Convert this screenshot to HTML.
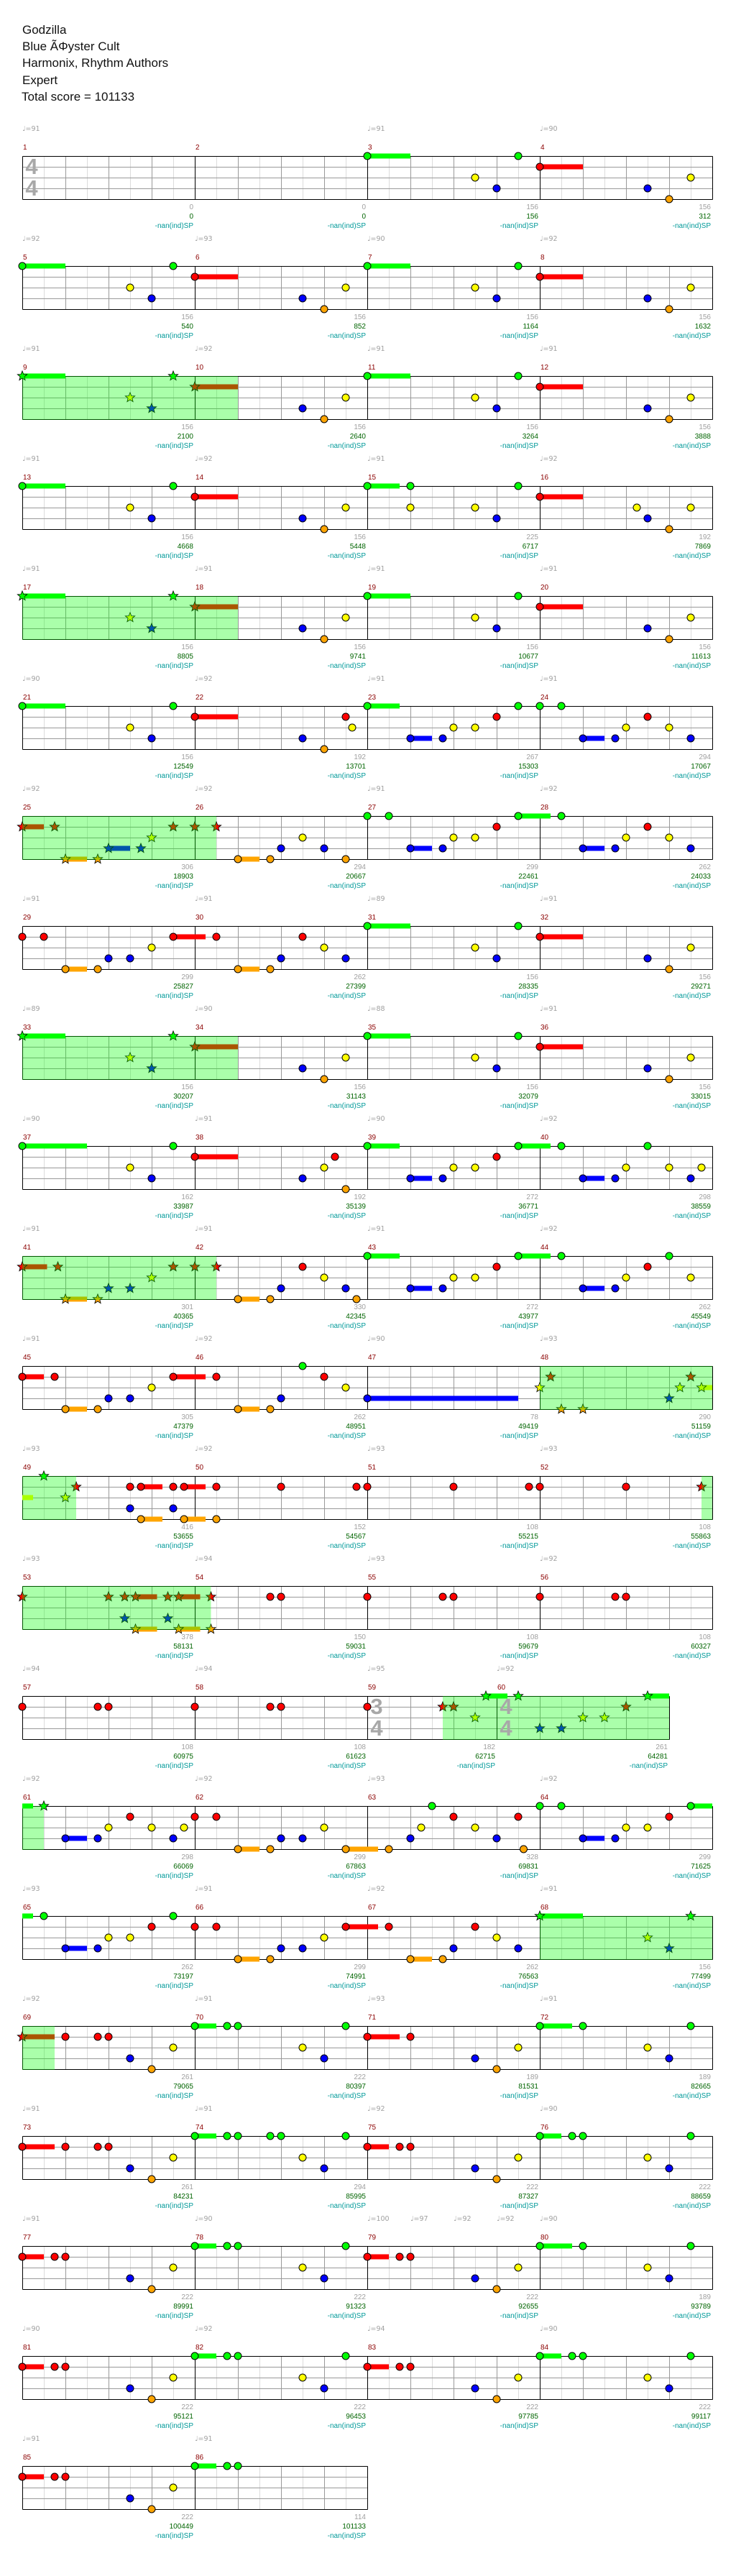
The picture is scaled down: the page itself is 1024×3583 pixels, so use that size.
<!DOCTYPE html>
<html><head><meta charset="utf-8">
<style>
html,body{margin:0;padding:0;background:#fff;}
body{width:1024px;height:3583px;position:relative;overflow:hidden;font-family:"Liberation Sans","DejaVu Sans",sans-serif;}
#g{position:absolute;left:0;top:0;}
.h{position:absolute;left:31px;font-size:17px;line-height:23px;color:#111;}
.r{position:absolute;left:0;width:1024px;height:1px;}
.m{position:absolute;top:0;width:240px;height:1px;font-size:10px;line-height:12px;}
.m i{position:absolute;left:0;top:-43px;font-style:normal;color:#a0a0a0;white-space:nowrap;font-family:"DejaVu Sans","Liberation Sans",sans-serif;font-size:9.5px;}
.m u{position:absolute;left:1px;top:-17px;text-decoration:none;color:#8b0000;}
.m s,.m b,.m q{position:absolute;right:2px;text-decoration:none;font-weight:normal;white-space:nowrap;}
.m s{top:66px;color:#a0a0a0;}
.m b{top:79px;color:#006400;}
.m q{top:92px;color:#009999;quotes:none;}
q::before,q::after{content:none;}
.ts{position:absolute;font-size:31px;font-weight:bold;color:#a8a8a8;line-height:30px;width:24px;text-align:center;}
</style></head><body>
<svg id="g" width="1024" height="3583" xmlns="http://www.w3.org/2000/svg"></svg>

<div class="h" style="top:30px">Godzilla</div>
<div class="h" style="top:53px">Blue ÃΦyster Cult</div>
<div class="h" style="top:76px">Harmonix, Rhythm Authors</div>
<div class="h" style="top:100px">Expert</div>
<div class="h" style="top:123px;left:30px">Total score = 101133</div>

<div class="ts" style="left:32px;top:217px">4</div>
<div class="ts" style="left:32px;top:247px">4</div>
<div class="ts" style="left:512px;top:2359px">3</div>
<div class="ts" style="left:512px;top:2389px">4</div>
<div class="ts" style="left:692px;top:2359px">4</div>
<div class="ts" style="left:692px;top:2389px">4</div>

<div class="r" style="top:217px">
<div class="m" style="left:31px"><i>♩=91</i><u>1</u><s>0</s><b>0</b><q>-nan(ind)SP</q></div>
<div class="m" style="left:271px"><u>2</u><s>0</s><b>0</b><q>-nan(ind)SP</q></div>
<div class="m" style="left:511px"><i>♩=91</i><u>3</u><s>156</s><b>156</b><q>-nan(ind)SP</q></div>
<div class="m" style="left:751px"><i>♩=90</i><u>4</u><s>156</s><b>312</b><q>-nan(ind)SP</q></div>
</div>
<div class="r" style="top:370px">
<div class="m" style="left:31px"><i>♩=92</i><u>5</u><s>156</s><b>540</b><q>-nan(ind)SP</q></div>
<div class="m" style="left:271px"><i>♩=93</i><u>6</u><s>156</s><b>852</b><q>-nan(ind)SP</q></div>
<div class="m" style="left:511px"><i>♩=90</i><u>7</u><s>156</s><b>1164</b><q>-nan(ind)SP</q></div>
<div class="m" style="left:751px"><i>♩=92</i><u>8</u><s>156</s><b>1632</b><q>-nan(ind)SP</q></div>
</div>
<div class="r" style="top:523px">
<div class="m" style="left:31px"><i>♩=91</i><u>9</u><s>156</s><b>2100</b><q>-nan(ind)SP</q></div>
<div class="m" style="left:271px"><i>♩=92</i><u>10</u><s>156</s><b>2640</b><q>-nan(ind)SP</q></div>
<div class="m" style="left:511px"><i>♩=91</i><u>11</u><s>156</s><b>3264</b><q>-nan(ind)SP</q></div>
<div class="m" style="left:751px"><i>♩=91</i><u>12</u><s>156</s><b>3888</b><q>-nan(ind)SP</q></div>
</div>
<div class="r" style="top:676px">
<div class="m" style="left:31px"><i>♩=91</i><u>13</u><s>156</s><b>4668</b><q>-nan(ind)SP</q></div>
<div class="m" style="left:271px"><i>♩=92</i><u>14</u><s>156</s><b>5448</b><q>-nan(ind)SP</q></div>
<div class="m" style="left:511px"><i>♩=91</i><u>15</u><s>225</s><b>6717</b><q>-nan(ind)SP</q></div>
<div class="m" style="left:751px"><i>♩=92</i><u>16</u><s>192</s><b>7869</b><q>-nan(ind)SP</q></div>
</div>
<div class="r" style="top:829px">
<div class="m" style="left:31px"><i>♩=91</i><u>17</u><s>156</s><b>8805</b><q>-nan(ind)SP</q></div>
<div class="m" style="left:271px"><i>♩=91</i><u>18</u><s>156</s><b>9741</b><q>-nan(ind)SP</q></div>
<div class="m" style="left:511px"><i>♩=91</i><u>19</u><s>156</s><b>10677</b><q>-nan(ind)SP</q></div>
<div class="m" style="left:751px"><i>♩=91</i><u>20</u><s>156</s><b>11613</b><q>-nan(ind)SP</q></div>
</div>
<div class="r" style="top:982px">
<div class="m" style="left:31px"><i>♩=90</i><u>21</u><s>156</s><b>12549</b><q>-nan(ind)SP</q></div>
<div class="m" style="left:271px"><i>♩=92</i><u>22</u><s>192</s><b>13701</b><q>-nan(ind)SP</q></div>
<div class="m" style="left:511px"><i>♩=91</i><u>23</u><s>267</s><b>15303</b><q>-nan(ind)SP</q></div>
<div class="m" style="left:751px"><i>♩=91</i><u>24</u><s>294</s><b>17067</b><q>-nan(ind)SP</q></div>
</div>
<div class="r" style="top:1135px">
<div class="m" style="left:31px"><i>♩=92</i><u>25</u><s>306</s><b>18903</b><q>-nan(ind)SP</q></div>
<div class="m" style="left:271px"><i>♩=92</i><u>26</u><s>294</s><b>20667</b><q>-nan(ind)SP</q></div>
<div class="m" style="left:511px"><i>♩=91</i><u>27</u><s>299</s><b>22461</b><q>-nan(ind)SP</q></div>
<div class="m" style="left:751px"><i>♩=92</i><u>28</u><s>262</s><b>24033</b><q>-nan(ind)SP</q></div>
</div>
<div class="r" style="top:1288px">
<div class="m" style="left:31px"><i>♩=91</i><u>29</u><s>299</s><b>25827</b><q>-nan(ind)SP</q></div>
<div class="m" style="left:271px"><i>♩=91</i><u>30</u><s>262</s><b>27399</b><q>-nan(ind)SP</q></div>
<div class="m" style="left:511px"><i>♩=89</i><u>31</u><s>156</s><b>28335</b><q>-nan(ind)SP</q></div>
<div class="m" style="left:751px"><i>♩=91</i><u>32</u><s>156</s><b>29271</b><q>-nan(ind)SP</q></div>
</div>
<div class="r" style="top:1441px">
<div class="m" style="left:31px"><i>♩=89</i><u>33</u><s>156</s><b>30207</b><q>-nan(ind)SP</q></div>
<div class="m" style="left:271px"><i>♩=90</i><u>34</u><s>156</s><b>31143</b><q>-nan(ind)SP</q></div>
<div class="m" style="left:511px"><i>♩=88</i><u>35</u><s>156</s><b>32079</b><q>-nan(ind)SP</q></div>
<div class="m" style="left:751px"><i>♩=91</i><u>36</u><s>156</s><b>33015</b><q>-nan(ind)SP</q></div>
</div>
<div class="r" style="top:1594px">
<div class="m" style="left:31px"><i>♩=90</i><u>37</u><s>162</s><b>33987</b><q>-nan(ind)SP</q></div>
<div class="m" style="left:271px"><i>♩=91</i><u>38</u><s>192</s><b>35139</b><q>-nan(ind)SP</q></div>
<div class="m" style="left:511px"><i>♩=90</i><u>39</u><s>272</s><b>36771</b><q>-nan(ind)SP</q></div>
<div class="m" style="left:751px"><i>♩=92</i><u>40</u><s>298</s><b>38559</b><q>-nan(ind)SP</q></div>
</div>
<div class="r" style="top:1747px">
<div class="m" style="left:31px"><i>♩=91</i><u>41</u><s>301</s><b>40365</b><q>-nan(ind)SP</q></div>
<div class="m" style="left:271px"><i>♩=91</i><u>42</u><s>330</s><b>42345</b><q>-nan(ind)SP</q></div>
<div class="m" style="left:511px"><i>♩=91</i><u>43</u><s>272</s><b>43977</b><q>-nan(ind)SP</q></div>
<div class="m" style="left:751px"><i>♩=92</i><u>44</u><s>262</s><b>45549</b><q>-nan(ind)SP</q></div>
</div>
<div class="r" style="top:1900px">
<div class="m" style="left:31px"><i>♩=91</i><u>45</u><s>305</s><b>47379</b><q>-nan(ind)SP</q></div>
<div class="m" style="left:271px"><i>♩=92</i><u>46</u><s>262</s><b>48951</b><q>-nan(ind)SP</q></div>
<div class="m" style="left:511px"><i>♩=90</i><u>47</u><s>78</s><b>49419</b><q>-nan(ind)SP</q></div>
<div class="m" style="left:751px"><i>♩=93</i><u>48</u><s>290</s><b>51159</b><q>-nan(ind)SP</q></div>
</div>
<div class="r" style="top:2053px">
<div class="m" style="left:31px"><i>♩=93</i><u>49</u><s>416</s><b>53655</b><q>-nan(ind)SP</q></div>
<div class="m" style="left:271px"><i>♩=92</i><u>50</u><s>152</s><b>54567</b><q>-nan(ind)SP</q></div>
<div class="m" style="left:511px"><i>♩=93</i><u>51</u><s>108</s><b>55215</b><q>-nan(ind)SP</q></div>
<div class="m" style="left:751px"><i>♩=93</i><u>52</u><s>108</s><b>55863</b><q>-nan(ind)SP</q></div>
</div>
<div class="r" style="top:2206px">
<div class="m" style="left:31px"><i>♩=93</i><u>53</u><s>378</s><b>58131</b><q>-nan(ind)SP</q></div>
<div class="m" style="left:271px"><i>♩=94</i><u>54</u><s>150</s><b>59031</b><q>-nan(ind)SP</q></div>
<div class="m" style="left:511px"><i>♩=93</i><u>55</u><s>108</s><b>59679</b><q>-nan(ind)SP</q></div>
<div class="m" style="left:751px"><i>♩=92</i><u>56</u><s>108</s><b>60327</b><q>-nan(ind)SP</q></div>
</div>
<div class="r" style="top:2359px">
<div class="m" style="left:31px"><i>♩=94</i><u>57</u><s>108</s><b>60975</b><q>-nan(ind)SP</q></div>
<div class="m" style="left:271px"><i>♩=94</i><u>58</u><s>108</s><b>61623</b><q>-nan(ind)SP</q></div>
<div class="m" style="left:511px;width:180px"><i>♩=95</i><u>59</u><s>182</s><b>62715</b><q>-nan(ind)SP</q></div>
<div class="m" style="left:691px"><i>♩=92</i><u>60</u><s>261</s><b>64281</b><q>-nan(ind)SP</q></div>
</div>
<div class="r" style="top:2512px">
<div class="m" style="left:31px"><i>♩=92</i><u>61</u><s>298</s><b>66069</b><q>-nan(ind)SP</q></div>
<div class="m" style="left:271px"><i>♩=92</i><u>62</u><s>299</s><b>67863</b><q>-nan(ind)SP</q></div>
<div class="m" style="left:511px"><i>♩=93</i><u>63</u><s>328</s><b>69831</b><q>-nan(ind)SP</q></div>
<div class="m" style="left:751px"><i>♩=92</i><u>64</u><s>299</s><b>71625</b><q>-nan(ind)SP</q></div>
</div>
<div class="r" style="top:2665px">
<div class="m" style="left:31px"><i>♩=93</i><u>65</u><s>262</s><b>73197</b><q>-nan(ind)SP</q></div>
<div class="m" style="left:271px"><i>♩=91</i><u>66</u><s>299</s><b>74991</b><q>-nan(ind)SP</q></div>
<div class="m" style="left:511px"><i>♩=92</i><u>67</u><s>262</s><b>76563</b><q>-nan(ind)SP</q></div>
<div class="m" style="left:751px"><i>♩=91</i><u>68</u><s>156</s><b>77499</b><q>-nan(ind)SP</q></div>
</div>
<div class="r" style="top:2818px">
<div class="m" style="left:31px"><i>♩=92</i><u>69</u><s>261</s><b>79065</b><q>-nan(ind)SP</q></div>
<div class="m" style="left:271px"><i>♩=91</i><u>70</u><s>222</s><b>80397</b><q>-nan(ind)SP</q></div>
<div class="m" style="left:511px"><i>♩=93</i><u>71</u><s>189</s><b>81531</b><q>-nan(ind)SP</q></div>
<div class="m" style="left:751px"><i>♩=91</i><u>72</u><s>189</s><b>82665</b><q>-nan(ind)SP</q></div>
</div>
<div class="r" style="top:2971px">
<div class="m" style="left:31px"><i>♩=91</i><u>73</u><s>261</s><b>84231</b><q>-nan(ind)SP</q></div>
<div class="m" style="left:271px"><i>♩=91</i><u>74</u><s>294</s><b>85995</b><q>-nan(ind)SP</q></div>
<div class="m" style="left:511px"><i>♩=92</i><u>75</u><s>222</s><b>87327</b><q>-nan(ind)SP</q></div>
<div class="m" style="left:751px"><i>♩=90</i><u>76</u><s>222</s><b>88659</b><q>-nan(ind)SP</q></div>
</div>
<div class="r" style="top:3124px">
<div class="m" style="left:31px"><i>♩=91</i><u>77</u><s>222</s><b>89991</b><q>-nan(ind)SP</q></div>
<div class="m" style="left:271px"><i>♩=90</i><u>78</u><s>222</s><b>91323</b><q>-nan(ind)SP</q></div>
<div class="m" style="left:511px"><i>♩=100</i><i style="left:60px">♩=97</i><i style="left:120px">♩=92</i><i style="left:180px">♩=92</i><u>79</u><s>222</s><b>92655</b><q>-nan(ind)SP</q></div>
<div class="m" style="left:751px"><i>♩=90</i><u>80</u><s>189</s><b>93789</b><q>-nan(ind)SP</q></div>
</div>
<div class="r" style="top:3277px">
<div class="m" style="left:31px"><i>♩=90</i><u>81</u><s>222</s><b>95121</b><q>-nan(ind)SP</q></div>
<div class="m" style="left:271px"><i>♩=92</i><u>82</u><s>222</s><b>96453</b><q>-nan(ind)SP</q></div>
<div class="m" style="left:511px"><i>♩=94</i><u>83</u><s>222</s><b>97785</b><q>-nan(ind)SP</q></div>
<div class="m" style="left:751px"><i>♩=90</i><u>84</u><s>222</s><b>99117</b><q>-nan(ind)SP</q></div>
</div>
<div class="r" style="top:3430px">
<div class="m" style="left:31px"><i>♩=91</i><u>85</u><s>222</s><b>100449</b><q>-nan(ind)SP</q></div>
<div class="m" style="left:271px"><i>♩=91</i><u>86</u><s>114</s><b>101133</b><q>-nan(ind)SP</q></div>
</div>

<script>
(function(){
var A="g0-2 y5 b6 g7 r8-10 b13 o14 y15 g16-18 y21 b22 g23 r24-26 b29 o30 y31";
var SPR="g0-2* y5* b6* g7* r8-10* b13 o14 y15 g16-18 y21 b22 g23 r24-26 b29 o30 y31";
var B4=[0,8,16,24,32];
var rows=[
{len:32,bars:B4,sp:[],n:"g16-18 y21 b22 g23 r24-26 b29 o30 y31"},
{len:32,bars:B4,sp:[],n:A},
{len:32,bars:B4,sp:[[0,10]],n:SPR},
{len:32,bars:B4,sp:[],n:"g0-2 y5 b6 g7 r8-10 b13 o14 y15 g16-17.5 g18 y18 y21 b22 g23 r24-26 y28.5 b29 o30 y31"},
{len:32,bars:B4,sp:[[0,10]],n:SPR},
{len:32,bars:B4,sp:[],n:"g0-2 y5 b6 g7 r8-10 b13 o14 r15 y15.3 g16-17.5 b18-19 b19.5 y20 y21 r22 g23 g24 g25 b26-27 b27.5 y28 r29 y30 b31"},
{len:32,bars:B4,sp:[[0,9]],n:"r0-1* r1.5* o2-3* o3.5* b4-5* b5.5* y6* r7* r8* r9* o10-11 o11.5 b12 y13 b14 o15 g16 g17 b18-19 b19.5 y20 y21 r22 g23-24.5 g25 b26-27 b27.5 y28 r29 y30 b31"},
{len:32,bars:B4,sp:[],n:"r0 r1 o2-3 o3.5 b4 b5 y6 r7-8.5 r9 o10-11 o11.5 b12 r13 y14 b15 g16-18 y21 b22 g23 r24-26 b29 o30 y31"},
{len:32,bars:B4,sp:[[0,10]],n:SPR},
{len:32,bars:B4,sp:[],n:"g0-3 y5 b6 g7 r8-10 b13 y14 r14.5 o15 g16-17.5 b18-19 b19.5 y20 y21 r22 g23-24.5 g25 b26-27 b27.5 y28 g29 y30 b31 y31.5"},
{len:32,bars:B4,sp:[[0,9]],n:"r0-1.15* r1.65* o2-3* o3.5* b4* b5* y6* r7* r8* r9* o10-11 o11.5 b12 r13 y14 b15 o15.5 g16-17.5 b18-19 b19.5 y20 y21 r22 g23-24.5 g25 b26-27 b27.5 y28 r29 g30 y31"},
{len:32,bars:B4,sp:[[24,32]],n:"r0-1 r1.5 o2-3 o3.5 b4 b5 y6 r7-8.5 r9 o10-11 o11.5 b12 g13 r14 y15 b16-23 y24* r24.5* o25* o26* b30* y30.5* r31* y31.5-32*"},
{len:32,bars:B4,sp:[[0,2.5],[31.5,32]],n:"~y0-0.5 g1* y2* r2.5* r5 b5 r5.5-6.5 o5.5-6.5 r7 b7 r7.5-8.5 o7.5-8.5 r9 o9 r12 r15.5 r16 r20 r23.5 r24 r28 r31.5*"},
{len:32,bars:B4,sp:[[0,8.75]],n:"r0* r4* r4.75* b4.75* r5.25-6.25* o5.25-6.25* r6.75* b6.75* r7.25-8.25* o7.25-8.25* r8.75* o8.75* r11.5 r12 r16 r19.5 r20 r24 r27.5 r28"},
{len:30,bars:[0,8,16,22,30],sp:[[19.5,30]],n:"r0 r3.5 r4 r8 r11.5 r12 r16 r19.5* r20* y21* g21.5-22.5* g23* b24* b25* y26* y27* r28* g29-30*"},
{len:32,bars:B4,sp:[[0,1]],n:"~g0-0.5 g1* b2-3 b3.5 y4 r5 y6 b7 y7.5 r8 r9 o10-11 o11.5 b12 b13 y14 o15-16.5 o17 b18 y18.5 g19 r20 y21 b22 r23 o23.25 g24 g25 b26-27 b27.5 y28 y29 r30 g31-32"},
{len:32,bars:B4,sp:[[24,32]],n:"~g0-0.5 g1 b2-3 b3.5 y4 y5 r6 g7 r8 r9 o10-11 o11.5 b12 b13 y14 r15-16.5 r17 o18-19 o19.5 b20 r21 y22 b23 g24-26* y29* b30* g31*"},
{len:32,bars:B4,sp:[[0,1.5]],n:"r0-1.5* r2 r3.5 r4 b5 o6 y7 g8-9 g9.5 g10 y13 b14 g15 r16-17.5 r18 b21 o22 y23 g24-25.5 g26 y29 b30 g31"},
{len:32,bars:B4,sp:[],n:"r0-1.5 r2 r3.5 r4 b5 o6 y7 g8-9 g9.5 g10 g11.5 g12 y13 b14 g15 r16-17 r17.5 r18 b21 o22 y23 g24-25 g25.5 g26 y29 b30 g31"},
{len:32,bars:B4,sp:[],n:"r0-1 r1.5 r2 b5 o6 y7 g8-9 g9.5 g10 y13 b14 g15 r16-17 r17.5 r18 b21 o22 y23 g24-25.5 g26 y29 b30 g31"},
{len:32,bars:B4,sp:[],n:"r0-1 r1.5 r2 b5 o6 y7 g8-9 g9.5 g10 y13 b14 g15 r16-17 r17.5 r18 b21 o22 y23 g24-25 g25.5 g26 y29 b30 g31"},
{len:16,bars:[0,8,16],sp:[],n:"r0-1 r1.5 r2 b5 o6 y7 g8-9 g9.5 g10"}
];
var col={g:"#00ff00",r:"#ff0000",y:"#ffff00",b:"#0000ff",o:"#ffa500"};
var lane={g:0,r:1,y:2,b:3,o:4};
var out=[];
function X(e){return 31+30*e;}
function line(x1,y1,x2,y2,c){out.push('<line x1="'+x1+'" y1="'+y1+'" x2="'+x2+'" y2="'+y2+'" stroke="'+c+'" stroke-width="1" shape-rendering="crispEdges"/>');}
function star(cx,cy,R,r,f){var p=[];for(var i=0;i<10;i++){var a=-Math.PI/2+i*Math.PI/5;var rr=i%2?r:R;p.push((cx+rr*Math.cos(a)).toFixed(1)+','+(cy+rr*Math.sin(a)).toFixed(1));}
 out.push('<polygon points="'+p.join(' ')+'" fill="'+f+'" stroke="#000" stroke-width="0.8"/>');}
rows.forEach(function(R,k){
 var T=217+153*k+0.5, L=R.len, x0=X(0)+0.5, x1=X(L)+0.5;
 for(var e=1;e<L;e++){ if(e%2) line(X(e)+0.5,T,X(e)+0.5,T+60,"#dcdcdc"); }
 for(var e=2;e<L;e+=2){ if(R.bars.indexOf(e)<0) line(X(e)+0.5,T,X(e)+0.5,T+60,"#999"); }
 for(var j=1;j<4;j++) line(x0,T+15*j,x1,T+15*j,"#999");
 R.bars.forEach(function(e){ line(X(e)+0.5,T,X(e)+0.5,T+60,"#000"); });
 line(x0,T,x1,T,"#000"); line(x0,T+60,x1,T+60,"#000");
 var notes=R.n.split(/\s+/).map(function(s){
   var m=s.match(/^(~?)([grybo])([\d.]+)(?:-([\d.]+))?(\*?)$/);
   return {tail:m[1]=="~",l:m[2],p:parseFloat(m[3]),e:m[4]?parseFloat(m[4]):null,st:m[5]=="*"};
 });
 notes.forEach(function(n){ if(n.e!==null){ var y=T-0.5+15*lane[n.l];
   out.push('<rect x="'+X(n.p)+'" y="'+(y-3.5)+'" width="'+(X(n.e)-X(n.p))+'" height="7" fill="'+col[n.l]+'"/>'); }});
 notes.forEach(function(n){ if(n.st&&!n.tail){ star(X(n.p),T-0.5+15*lane[n.l],7,3,col[n.l]); }});
 R.sp.forEach(function(s){ out.push('<rect x="'+X(s[0])+'" y="'+(T-0.5)+'" width="'+(X(s[1])-X(s[0]))+'" height="61" fill="rgba(0,255,0,0.333)"/>'); });
 notes.forEach(function(n){ if(!n.st&&!n.tail){ out.push('<circle cx="'+X(n.p)+'" cy="'+(T-0.5+15*lane[n.l])+'" r="5" fill="'+col[n.l]+'" stroke="#000" stroke-width="1"/>'); }});
});
document.getElementById("g").innerHTML=out.join("");
})();
</script>
</body></html>
